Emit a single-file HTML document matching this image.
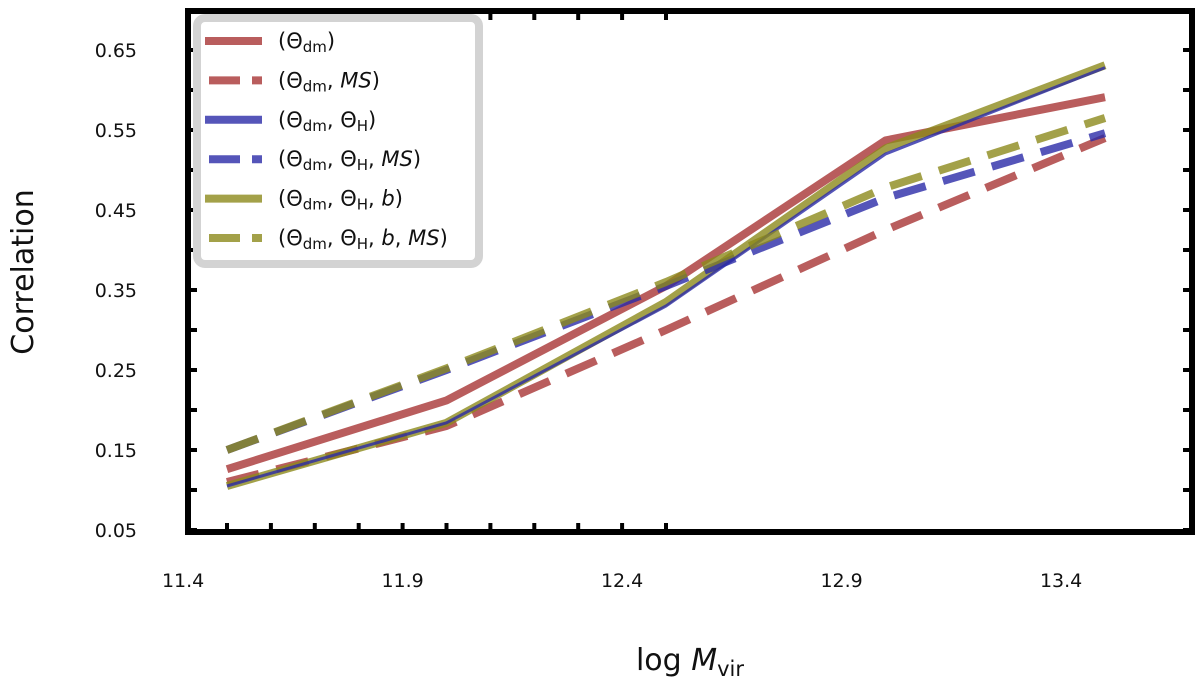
<!DOCTYPE html>
<html><head><meta charset="utf-8"><style>
body{margin:0;background:#fff;}
svg text{font-family:"DejaVu Sans","Liberation Sans",sans-serif;fill:#111;}
</style></head><body>
<svg id="chart" width="1200" height="686" viewBox="0 0 1200 686" xmlns="http://www.w3.org/2000/svg">
<g id="plot"></g>
<rect x="188" y="11" width="1004" height="521" fill="none" stroke="#000" stroke-width="6"/>
<g id="ticks"></g>
<text x="0" y="0" transform="translate(33,272) rotate(-90)" text-anchor="middle" font-size="30">Correlation</text>
<text x="690" y="670" text-anchor="middle" font-size="30">log <tspan font-style="italic">M</tspan><tspan font-size="21" dy="6">vir</tspan></text>
<g id="legend"></g>
</svg>
<script>
const xValues=[11.5,12.0,12.5,13.0,13.5];
const seriesNames=["dm","dm-ms","dm-h","dm-h-ms","dm-h-b","dm-h-b-ms"];
const redSolid=[0.126,0.212,0.355,0.537,0.591];
const redDashed=[0.11,0.18,0.30,0.425,0.54];
const blueSolid=[0.105,0.184,0.33,0.52,0.628];
const blueDashed=[0.15,0.25,0.355,0.465,0.546];
const oliveSolid=[0.105,0.184,0.335,0.527,0.631];
const oliveDashed=[0.15,0.252,0.36,0.478,0.565];
const xTickLabels=[11.4,11.9,12.4,12.9,13.4];
const yTickLabels=[0.05,0.15,0.25,0.35,0.45,0.55,0.65];
const NS="http://www.w3.org/2000/svg";
function X(v){return 227+(v-11.5)*439;}
function Y(v){return 530-(v-0.05)*800;}
function mk(t,a,p){const e=document.createElementNS(NS,t);for(const k in a)e.setAttribute(k,a[k]);p.appendChild(e);return e;}
const plot=document.getElementById('plot'),ticks=document.getElementById('ticks'),svg=document.getElementById('chart');
const series=[
 {d:redSolid,c:"#a83434",dash:null,w:8},
 {d:redDashed,c:"#a83434",dash:"33 18",w:8},
 {d:oliveSolid,c:"#8c8a1c",dash:null,w:8},
 {d:blueSolid,c:"#2a2aa8",dash:null,w:3},
 {d:blueDashed,c:"#2a2aa8",dash:"33 18",w:8},
 {d:oliveDashed,c:"#8c8a1c",dash:"33 18",w:8}];
series.forEach((s,i)=>{
 const pts=s.d.map((v,j)=>X(xValues[j]).toFixed(1)+","+Y(v).toFixed(1)).join(" ");
 const a={points:pts,fill:"none",stroke:s.c,"stroke-width":s.w,"stroke-opacity":0.8,"stroke-linejoin":"round"};
 if(s.dash)a["stroke-dasharray"]=s.dash;
 const pl=mk('polyline',a,plot);
 
 
});
for(let k=0;k<=10;k++){const v=11.5+k*0.1;const x=X(v);if(x>1188)break;
 const t1=mk('line',{x1:x,x2:x,y1:532,y2:523,stroke:"#000","stroke-width":4},ticks);
 
 
 const t2=mk('line',{x1:x,x2:x,y1:11,y2:20,stroke:"#000","stroke-width":4},ticks);
 
 }
for(let k=0;k<=13;k++){const v=0.05+k*0.05;const y=Y(v);if(y<14)break;
 const t1=mk('line',{x1:188,x2:197,y1:y,y2:y,stroke:"#000","stroke-width":4},ticks);
 
 
 const t2=mk('line',{x1:1192,x2:1183,y1:y,y2:y,stroke:"#000","stroke-width":4},ticks);
 
 }
xTickLabels.forEach(v=>{const t=mk('text',{x:X(v),y:587,"text-anchor":"middle","font-size":19},svg);t.textContent=v.toFixed(1);
 
 });
yTickLabels.forEach(v=>{const t=mk('text',{x:137,y:Y(v)+7,"text-anchor":"end","font-size":19},svg);t.textContent=v.toFixed(2);
 
 });
const lg=document.getElementById('legend');
mk('rect',{x:197,y:18,width:282,height:246,rx:8,fill:"#fff",stroke:"#d3d3d3","stroke-width":8},lg);
const labels=['(Θ<tspan font-size="15" dy="4">dm</tspan><tspan dy="-4">)</tspan>',
'(Θ<tspan font-size="15" dy="4">dm</tspan><tspan dy="-4">, </tspan><tspan font-style="italic">MS</tspan>)',
'(Θ<tspan font-size="15" dy="4">dm</tspan><tspan dy="-4">, Θ</tspan><tspan font-size="15" dy="4">H</tspan><tspan dy="-4">)</tspan>',
'(Θ<tspan font-size="15" dy="4">dm</tspan><tspan dy="-4">, Θ</tspan><tspan font-size="15" dy="4">H</tspan><tspan dy="-4">, </tspan><tspan font-style="italic">MS</tspan>)',
'(Θ<tspan font-size="15" dy="4">dm</tspan><tspan dy="-4">, Θ</tspan><tspan font-size="15" dy="4">H</tspan><tspan dy="-4">, </tspan><tspan font-style="italic">b</tspan>)',
'(Θ<tspan font-size="15" dy="4">dm</tspan><tspan dy="-4">, Θ</tspan><tspan font-size="15" dy="4">H</tspan><tspan dy="-4">, </tspan><tspan font-style="italic">b</tspan>, <tspan font-style="italic">MS</tspan>)'];
const lcol=["#a83434","#a83434","#2a2aa8","#2a2aa8","#8c8a1c","#8c8a1c"];
labels.forEach((h,i)=>{const y=41+i*39.4;const dashed=i%2===1;
 const a={x1:dashed?209:205,x2:262,y1:y,y2:y,stroke:lcol[i],"stroke-width":8,"stroke-opacity":0.8};
 if(dashed)a["stroke-dasharray"]="31 12";
 const l=mk('line',a,lg);
 
 
 const t=mk('text',{x:278,y:y+7,"font-size":21},lg);t.innerHTML=h;
 
 });
</script>
</body></html>
